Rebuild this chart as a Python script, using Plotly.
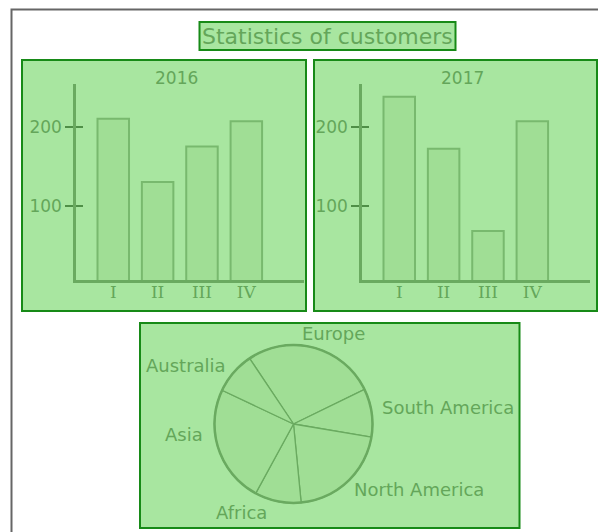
import plotly.graph_objects as go

W, H = 598, 532
OFF = 0  # body margin removed via post_script

quarters = ["I", "II", "III", "IV"]
customers_2016 = [210, 130, 175, 207]
customers_2017 = [238, 172, 68, 207]
regions = ["Europe", "South America", "North America", "Africa", "Asia", "Australia"]
region_share = [272, 99, 208, 95, 241, 86]
y_ticks = [100, 200]

# label placement (page pixels) for pie labels
label_pos = [(333, 333), (447.5, 407), (418.5, 489), (241.7, 512.5), (184.3, 434.5), (185.8, 365)]

PANEL = "#a8e6a0"
BORDER = "#178a17"
TEXT = "#64a65a"
BAR = "#a0de95"
LINE = "#6aaa60"
FONT = "DejaVu Sans"


def px(x):
    return (x - OFF) / W


def py(y):
    return 1 - (y - OFF) / H


fig = go.Figure()

xpos = list(range(len(quarters)))
fig.add_trace(go.Bar(x=xpos, y=customers_2016, width=0.71, xaxis="x", yaxis="y",
                     marker=dict(color=BAR, line=dict(color="#78b96e", width=2)),
                     hoverinfo="skip", showlegend=False))
fig.add_trace(go.Bar(x=xpos, y=customers_2017, width=0.71, xaxis="x2", yaxis="y2",
                     marker=dict(color=BAR, line=dict(color="#78b96e", width=2)),
                     hoverinfo="skip", showlegend=False))
# invisible traces so the overlay tick axes get drawn
fig.add_trace(go.Scatter(x=xpos, y=customers_2016, mode="none", xaxis="x", yaxis="y3",
                         showlegend=False, hoverinfo="skip"))
fig.add_trace(go.Scatter(x=xpos, y=customers_2017, mode="none", xaxis="x2", yaxis="y4",
                         showlegend=False, hoverinfo="skip"))

pie_dom = dict(x=[px(214), px(373)], y=[py(503), py(345)])
fig.add_trace(go.Pie(labels=regions, values=region_share, sort=False, direction="clockwise",
                     rotation=-33.8, domain=pie_dom, textinfo="none",
                     marker=dict(colors=[BAR] * len(regions), line=dict(color=LINE, width=1.3)),
                     hoverinfo="skip", showlegend=False))
fig.add_trace(go.Pie(labels=["all"], values=[sum(region_share)], domain=pie_dom,
                     textinfo="none", marker=dict(colors=["rgba(0,0,0,0)"], line=dict(color=LINE, width=2.5)),
                     hoverinfo="skip", showlegend=False))

yrange = [6, 254]
xrange_ = [-0.84, 4.3]
ydom = [py(280), py(84)]

common_x = dict(range=xrange_, showgrid=False, zeroline=False, showline=True, linecolor=LINE, linewidth=2.5,
                tickvals=xpos, ticktext=quarters, ticks="", ticklabelstandoff=-5,
                tickfont=dict(family="DejaVu Serif", size=17, color=TEXT), fixedrange=True)
common_y = dict(range=yrange, showgrid=False, zeroline=False, showline=True, linecolor=LINE, linewidth=2.5,
                tickvals=y_ticks, ticks="outside", ticklen=8, tickwidth=1.5, tickcolor="#4f8f47",
                tickfont=dict(family=FONT, size=17, color=TEXT), fixedrange=True)
inner_y = dict(range=yrange, showgrid=False, zeroline=False, showline=False,
               tickvals=y_ticks, ticks="inside", ticklen=7, tickwidth=1.5, tickcolor="#4f8f47",
               showticklabels=False, fixedrange=True)

fig.update_layout(
    width=W, height=H, margin=dict(l=0, r=0, t=0, b=0),
    paper_bgcolor="white", plot_bgcolor="rgba(0,0,0,0)",
    xaxis=dict(domain=[px(76), px(304)], anchor="y", **common_x),
    yaxis=dict(domain=ydom, anchor="x", **common_y),
    xaxis2=dict(domain=[px(362), px(590)], anchor="y2", **common_x),
    yaxis2=dict(domain=ydom, anchor="x2", **common_y),
    yaxis3=dict(overlaying="y", anchor="x", side="left", **inner_y),
    yaxis4=dict(overlaying="y2", anchor="x2", side="left", **inner_y),
    bargap=0.3,
)

shapes = [
    dict(type="rect", xref="paper", yref="paper", x0=px(11.5), x1=px(700), y0=py(700), y1=py(9.5),
         line=dict(color="#666666", width=2), fillcolor="white", layer="below"),
    dict(type="rect", xref="paper", yref="paper", x0=px(199.5), x1=px(455.5), y0=py(50), y1=py(22),
         line=dict(color=BORDER, width=2), fillcolor=PANEL, layer="below"),
    dict(type="rect", xref="paper", yref="paper", x0=px(22), x1=px(306), y0=py(311), y1=py(60),
         line=dict(color=BORDER, width=2), fillcolor=PANEL, layer="below"),
    dict(type="rect", xref="paper", yref="paper", x0=px(314), x1=px(597), y0=py(311), y1=py(60),
         line=dict(color=BORDER, width=2), fillcolor=PANEL, layer="below"),
    dict(type="rect", xref="paper", yref="paper", x0=px(140), x1=px(519.5), y0=py(528), y1=py(323),
         line=dict(color=BORDER, width=2), fillcolor=PANEL, layer="below"),
]
fig.update_layout(shapes=shapes)

annotations = [
    dict(text="Statistics of customers", x=px(327.5), y=py(36.5), xref="paper", yref="paper",
         showarrow=False, font=dict(family=FONT, size=22, color=TEXT), xanchor="center", yanchor="middle"),
    dict(text="2016", x=px(176), y=py(78.5), xref="paper", yref="paper",
         showarrow=False, font=dict(family=FONT, size=17, color=TEXT), xanchor="center", yanchor="middle"),
    dict(text="2017", x=px(462.5), y=py(78.5), xref="paper", yref="paper",
         showarrow=False, font=dict(family=FONT, size=17, color=TEXT), xanchor="center", yanchor="middle"),
]
for name, (lx, ly) in zip(regions, label_pos):
    annotations.append(dict(text=name, x=px(lx), y=py(ly), xref="paper", yref="paper", showarrow=False,
                            font=dict(family=FONT, size=18, color=TEXT), xanchor="center", yanchor="middle"))
fig.update_layout(annotations=annotations)

fig.write_html("out.html", config={"displayModeBar": False},
               post_script="document.body.style.margin='0px';document.documentElement.style.overflow='hidden';document.body.style.overflow='hidden';")
